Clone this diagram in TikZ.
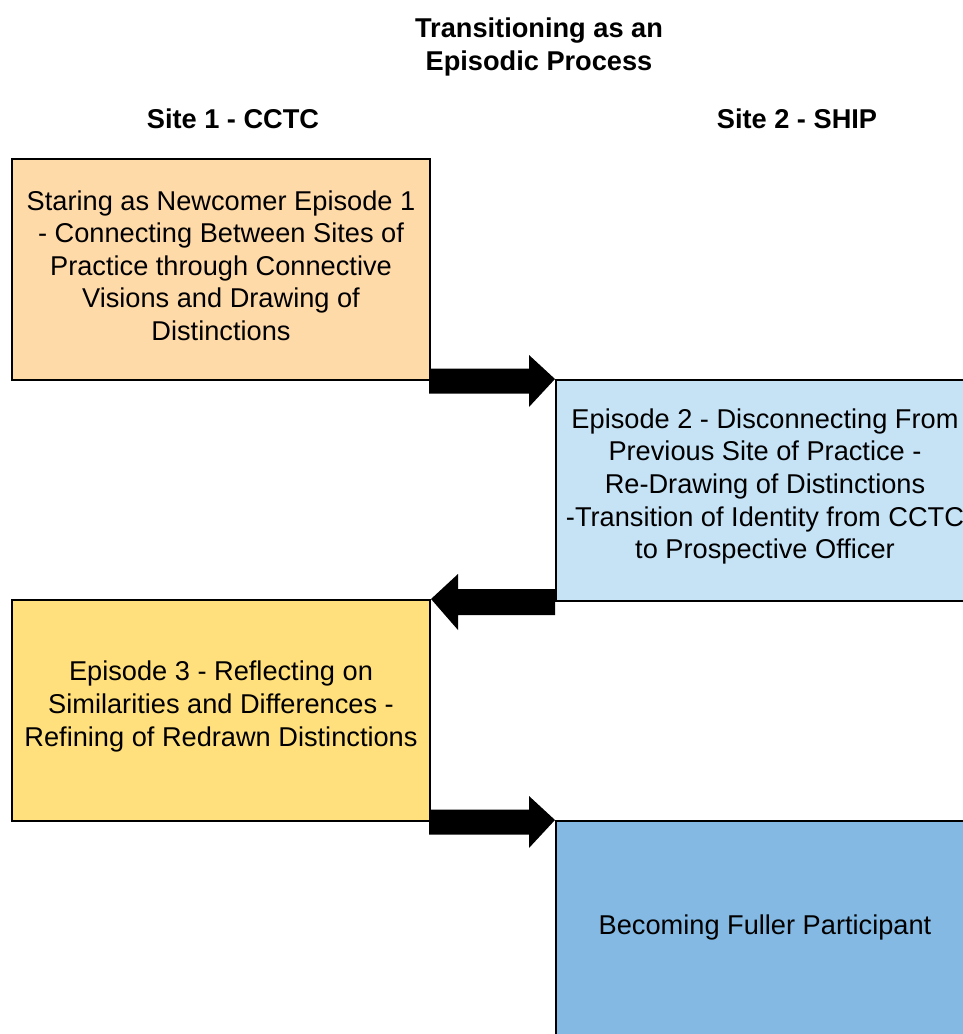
\documentclass[tikz,border=0pt]{standalone}
\usepackage{fontspec}
\setmainfont{Liberation Sans}
\usetikzlibrary{calc}
\definecolor{peach}{HTML}{FFDAA9}
\definecolor{paleblue}{HTML}{C6E3F6}
\definecolor{sunyellow}{HTML}{FFE07C}
\definecolor{midblue}{HTML}{83B9E3}
\begin{document}
\begin{tikzpicture}[x=1pt,y=-1pt,
  box/.style={draw=black, line width=2pt, minimum width=418pt, minimum height=221pt,
    inner sep=0pt, anchor=north west},
  boxtext/.style={inner sep=0pt, align=center, font=\fontsize{27.2}{32.6}\selectfont},
  heading/.style={anchor=base, inner sep=0pt, font=\fontsize{27.2}{32.6}\selectfont\bfseries},
  blk/.style={fill=black}]
\useasboundingbox (0,0) rectangle (963,1034);
\clip (0,0) rectangle (963,1034);
\node[heading] (t1) at (539,37) {Transitioning as an};
\node[heading] (t2) at (539,70) {Episodic Process};
\node[heading] (s1) at (233,128) {Site 1 - CCTC};
\node[heading] (s2) at (797,128) {Site 2 - SHIP};
\node[box, fill=peach] (b1) at (11,158) {};
\node[box, fill=paleblue] (b2) at (555,379) {};
\node[box, fill=sunyellow] (b3) at (11,599) {};
\node[box, fill=midblue] (b4) at (555,820) {};
\node[boxtext] (b1t) at ($(b1.center)+(0,-4)$) {Staring as Newcomer Episode 1\\- Connecting Between Sites of\\Practice through Connective\\Visions and Drawing of\\Distinctions};
\node[boxtext] (b2t) at ($(b2.center)+(0,-4)$) {Episode 2 - Disconnecting From\\Previous Site of Practice -\\Re-Drawing of Distinctions\\-Transition of Identity from CCTC\\to Prospective Officer};
\node[boxtext] (b3t) at ($(b3.center)+(0,-4)$) {Episode 3 - Reflecting on\\Similarities and Differences -\\Refining of Redrawn Distinctions};
\node[boxtext] (b4t) at ($(b4.center)+(0,-4)$) {Becoming Fuller Participant};
\fill[blk] let \p1=(b1.south east), \p2=(b2.north west) in
  (\x1-2pt,\y1+12.5pt) -- (\x2-26pt,\y1+12.5pt) -- (\x2-26pt,\y1+26pt) -- (\x2,\y2)
  -- (\x2-26pt,\y1-26pt) -- (\x2-26pt,\y1-12.5pt) -- (\x1-2pt,\y1-12.5pt) -- cycle;
\fill[blk] let \p1=(b2.south west), \p2=(b3.north east) in
  (\x1,\y1+13pt) -- (\x2+27pt,\y1+13pt) -- (\x2+27pt,\y1+28pt) -- (\x2,\y2)
  -- (\x2+27pt,\y1-28pt) -- (\x2+27pt,\y1-13pt) -- (\x1,\y1-13pt) -- cycle;
\fill[blk] let \p1=(b3.south east), \p2=(b4.north west) in
  (\x1-2pt,\y1+12.5pt) -- (\x2-26pt,\y1+12.5pt) -- (\x2-26pt,\y1+26pt) -- (\x2,\y2)
  -- (\x2-26pt,\y1-26pt) -- (\x2-26pt,\y1-12.5pt) -- (\x1-2pt,\y1-12.5pt) -- cycle;
\end{tikzpicture}
\end{document}
